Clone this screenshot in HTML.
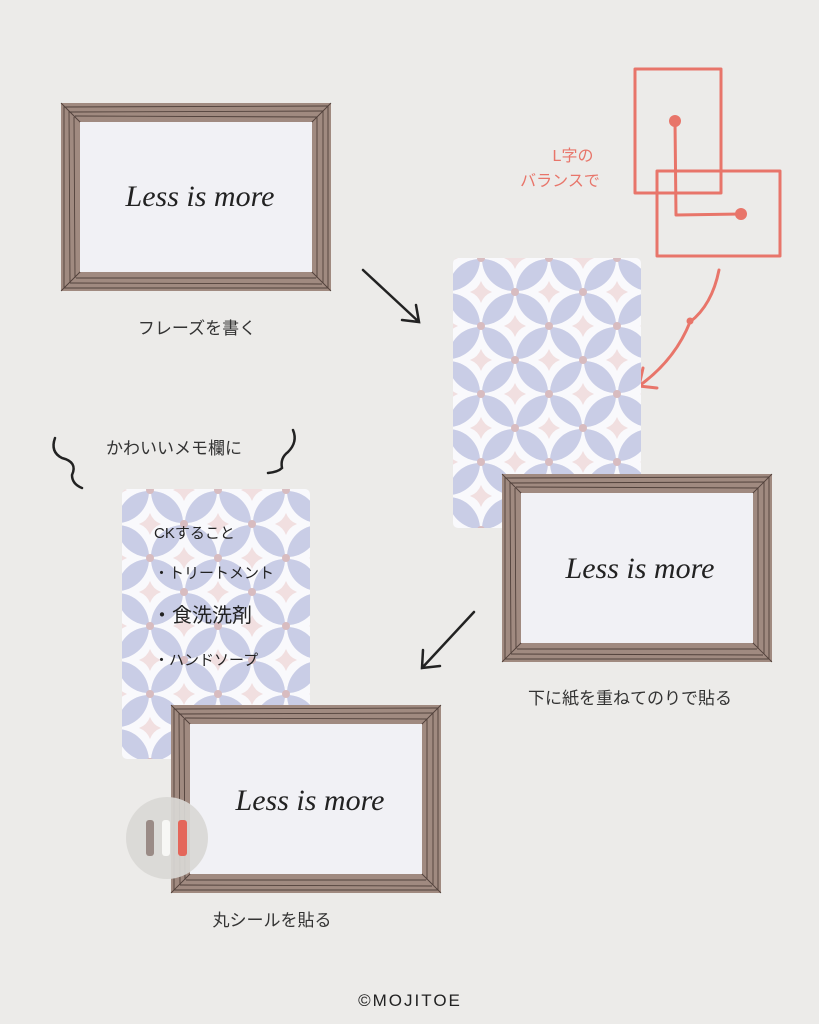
<!DOCTYPE html>
<html><head><meta charset="utf-8"><style>
html,body{margin:0;padding:0;background:#ecebe9}
svg{display:block}
.jp{font-family:"Liberation Sans","Noto Sans CJK JP",sans-serif}
.sc{font-family:"Liberation Serif",serif;font-style:italic}
</style></head><body>
<svg width="819" height="1024" viewBox="0 0 819 1024" xmlns="http://www.w3.org/2000/svg">
<defs>
<g id="tile">
<rect x="0" y="0" width="68" height="68" fill="#f9f9fc"/>
<g fill="#f1dfe0">
<path d="M34 -11 Q37 -3 45 0 Q37 3 34 11 Q31 3 23 0 Q31 -3 34 -11Z"/>
<path d="M34 57 Q37 65 45 68 Q37 71 34 79 Q31 71 23 68 Q31 65 34 57Z"/>
<path d="M0 23 Q3 31 11 34 Q3 37 0 45 Q-3 37 -11 34 Q-3 31 0 23Z"/>
<path d="M68 23 Q71 31 79 34 Q71 37 68 45 Q65 37 57 34 Q65 31 68 23Z"/>
</g>
<g fill="#c9cde6">
<path d="M1 1 A32 32 0 0 1 33 33 A32 32 0 0 1 1 1Z"/>
<path d="M35 35 A32 32 0 0 1 67 67 A32 32 0 0 1 35 35Z"/>
<path d="M67 1 A32 32 0 0 1 35 33 A32 32 0 0 1 67 1Z"/>
<path d="M33 35 A32 32 0 0 1 1 67 A32 32 0 0 1 33 35Z"/>
</g>
<g fill="#d8bcc0">
<circle cx="0" cy="0" r="4"/><circle cx="68" cy="0" r="4"/><circle cx="0" cy="68" r="4"/><circle cx="68" cy="68" r="4"/><circle cx="34" cy="34" r="4"/>
</g>
</g>
<pattern id="p1" width="68" height="68" patternUnits="userSpaceOnUse" patternTransform="translate(5 54)"><use href="#tile"/></pattern>
<pattern id="p2" width="68" height="68" patternUnits="userSpaceOnUse" patternTransform="translate(14 14)"><use href="#tile"/></pattern>
<g id="frame">
<rect x="0" y="0" width="270" height="188" fill="#a08a80"/>
<g stroke="#3e2f2a" stroke-width="0.9" fill="none" opacity="0.8">
<path d="M3 4 L267 3 M8 9 L262 8 M14 13 L256 14"/>
<path d="M3 185 L267 185 M9 180 L261 181 M15 175 L255 175"/>
<path d="M3 3 L3 185 M8 8 L9 180 M13 14 L14 175"/>
<path d="M267 3 L267 185 M262 8 L262 180 M256 14 L256 175"/>
<path d="M0 0 L20 20 M270 0 L250 20 M0 188 L20 168 M270 188 L250 168"/>
</g>
<rect x="19" y="19" width="232" height="150" fill="#f1f1f5"/>
</g>
</defs>

<use href="#frame" x="61" y="103"/>
<text x="200" y="206" text-anchor="middle" class="sc" font-size="30" fill="#222">Less is more</text>
<text x="197" y="334" text-anchor="middle" class="jp" font-size="17" fill="#333">フレーズを書く</text>

<path d="M363 270 L419 322 M402 320 L419 322 L416 305" stroke="#222" stroke-width="2.5" fill="none" stroke-linecap="round"/>

<g stroke="#e8756a" stroke-width="3" fill="none" stroke-linecap="round" stroke-linejoin="round">
<rect x="635" y="69" width="86" height="124"/>
<rect x="657" y="171" width="123" height="85"/>
<path d="M675 121 L676 215 L741 214"/>
<path d="M719 270 Q712 305 690 322 Q675 360 639 386"/>
<path d="M639 386 L657 388 M639 386 L643 368"/>
</g>
<circle cx="675" cy="121" r="6" fill="#e8756a"/>
<circle cx="741" cy="214" r="6" fill="#e8756a"/>
<circle cx="690" cy="321" r="3.5" fill="#e8756a"/>
<text x="573" y="161" text-anchor="middle" class="jp" font-size="16" fill="#e8756a">L字の</text>
<text x="560" y="186" text-anchor="middle" class="jp" font-size="16" fill="#e8756a">バランスで</text>

<rect x="453" y="258" width="188" height="270" rx="5" fill="url(#p1)"/>
<use href="#frame" x="502" y="474"/>
<text x="640" y="578" text-anchor="middle" class="sc" font-size="30" fill="#222">Less is more</text>
<text x="630" y="704" text-anchor="middle" class="jp" font-size="17" fill="#333">下に紙を重ねてのりで貼る</text>

<path d="M474 612 L422 668 M423 650 L422 668 L440 666" stroke="#222" stroke-width="2.5" fill="none" stroke-linecap="round"/>

<path d="M55 438 Q50 452 62 458 Q78 462 72 475 Q72 484 82 488" stroke="#222" stroke-width="2.5" fill="none" stroke-linecap="round"/>
<path d="M293 430 Q298 442 288 452 Q280 458 282 468 Q278 472 268 473" stroke="#222" stroke-width="2.5" fill="none" stroke-linecap="round"/>
<text x="174" y="454" text-anchor="middle" class="jp" font-size="17" fill="#333">かわいいメモ欄に</text>

<rect x="122" y="489" width="188" height="270" rx="5" fill="url(#p2)"/>
<g class="jp" fill="#222">
<text x="154" y="538" font-size="15">CKすること</text>
<text x="154" y="578" font-size="15">・トリートメント</text>
<text x="152" y="622" font-size="20">・食洗洗剤</text>
<text x="154" y="665" font-size="15">・ハンドソープ</text>
</g>
<use href="#frame" x="171" y="705"/>
<text x="310" y="810" text-anchor="middle" class="sc" font-size="30" fill="#222">Less is more</text>

<circle cx="167" cy="838" r="41" fill="#d9d8d5" opacity="0.92"/>
<rect x="146" y="820" width="8" height="36" rx="3" fill="#9a8b86"/>
<rect x="162" y="820" width="8" height="36" rx="3" fill="#f7f7f5"/>
<rect x="178" y="820" width="9" height="36" rx="3" fill="#e4665a"/>

<text x="272" y="926" text-anchor="middle" class="jp" font-size="17" fill="#333">丸シールを貼る</text>
<text x="410" y="1006" text-anchor="middle" class="jp" font-size="17" fill="#222" letter-spacing="2">©MOJITOE</text>
</svg>
</body></html>
